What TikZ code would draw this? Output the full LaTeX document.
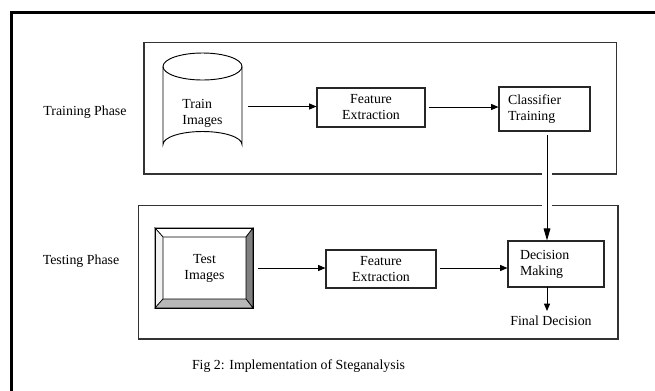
\documentclass[tikz,border=0pt]{standalone}
\usepackage{fontspec}
\setmainfont{Liberation Serif}
\usetikzlibrary{arrows.meta}
\begin{document}
\begin{tikzpicture}[x=0.75pt,y=-0.75pt,
  txt/.style={font=\fontsize{10.4}{12}\selectfont, inner sep=0pt},
  boxn/.style={draw=black!85, line width=0.8pt, txt, align=center},
  lbox/.style={draw=black!85, line width=0.8pt, font=\fontsize{10.4}{12}\selectfont, align=left, inner ysep=0pt},
  frame/.style={draw=black!80, line width=0.9pt},
  arr/.style={line width=0.7pt, -{Triangle[length=5.5pt,width=4.5pt]}},
  bigarr/.style={line width=0.7pt, -{Triangle[length=9pt,width=5pt]}}
]
\clip (0,0) rectangle (655,390);
\fill[white] (0,0) rectangle (655,390);
% outer frame
\draw[line width=2.4pt] (11.5,12.5) rectangle (720,460);
% phase frames
\draw[frame] (144,42.5) rectangle (616.5,174);
\draw[frame] (138.5,205.5) rectangle (618,339);
\node[txt] (trainlbl) at (85,112) {Training Phase};
\node[txt] (testlbl) at (81,261) {Testing Phase};
% cylinder
\draw[line width=0.7pt, fill=white] (163,66.5) -- (163,144.5) arc[start angle=180,end angle=360,x radius=39.5,y radius=13] -- (242,66.5);
\draw[line width=0.7pt] (202.5,66.5) ellipse[x radius=39.5,y radius=13.5];
\node[txt, align=left, minimum width=79*0.75pt, minimum height=90*0.75pt] (train) at (202.5,113) {Train\\Images};
% feature extraction 1
\node[boxn, minimum width=108*0.75pt, minimum height=39*0.75pt] (fe1) at (371,107.5) {Feature\\Extraction};
% classifier training
\node[lbox, inner xsep=9*0.75pt, text width=73*0.75pt, minimum height=44*0.75pt] (ct) at (544.5,109) {Classifier\\Training};
% test images bevel
\begin{scope}[line width=0.5pt]
\fill[white] (155,228) rectangle (253,308);
\filldraw[fill=white,draw=black] (155,228) -- (253,228) -- (246,237) -- (163,237) -- cycle;
\filldraw[fill=black!5,draw=black] (155,228) -- (163,237) -- (163,299) -- (155,308) -- cycle;
\filldraw[fill=black!50,draw=black] (253,228) -- (246,237) -- (246,299) -- (253,308) -- cycle;
\filldraw[fill=black!28,draw=black] (155,308) -- (163,299) -- (246,299) -- (253,308) -- cycle;
\draw[line width=0.7pt] (155,228) rectangle (253,308);
\end{scope}
\node[txt, align=center, minimum width=83*0.75pt, minimum height=62*0.75pt] (test) at (204.5,268) {Test\\Images};
% feature extraction 2
\node[boxn, minimum width=110*0.75pt, minimum height=38*0.75pt] (fe2) at (381,269) {Feature\\Extraction};
% decision making
\node[lbox, inner xsep=12*0.75pt, text width=72*0.75pt, minimum height=46*0.75pt] (dm) at (556,264) {Decision\\Making};
\node[txt] (final) at (551,321) {Final Decision};
% arrows
\draw[arr] (train.east |- 0,106.5) ++(6,0) coordinate (a1) -- (fe1.west |- a1) ;
\draw[arr] (fe1.east |- 0,107) ++(3,0) coordinate (a2) -- (ct.west |- a2);
\draw[arr] (test.east |- 0,268) ++(12,0) coordinate (a3) -- (fe2.west |- a3);
\draw[arr] (fe2.east |- 0,268) ++(3,0) coordinate (a4) -- (dm.west |- a4);
\draw[bigarr, preaction={draw=white,line width=7pt,-}] (547,135) coordinate (v1) -- (v1 |- dm.north);
\draw[arr] (547,287) coordinate (v2) -- (547,311);
\node[txt] (cap) at (298.5,366) {Fig 2: Implementation of Steganalysis};
\end{tikzpicture}
\end{document}
